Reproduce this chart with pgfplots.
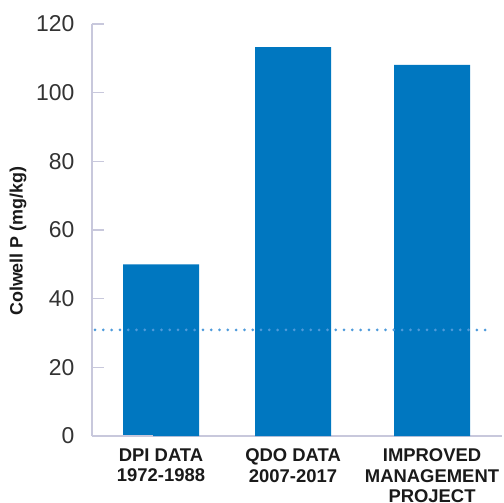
\documentclass[border=0pt]{standalone}
\usepackage{pgfplots}
\pgfplotsset{compat=1.18}
\usepackage{fontspec}
\setmainfont{Liberation Sans}
\definecolor{barblue}{HTML}{0077C0}
\definecolor{dotblue}{HTML}{4F9BDB}
\definecolor{axisgray}{HTML}{C8C8DC}
\definecolor{ticktext}{HTML}{333333}
\definecolor{labtext}{HTML}{1A1A1A}
\begin{document}
\begin{tikzpicture}
\begin{axis}[
  x=132bp, y=3.4333bp,
  xmin=-0.523, xmax=2.583, ymin=0, ymax=120,
  axis x line=bottom, axis y line=left,
  axis line style={axisgray, line width=1.5bp, -},
  clip=false,
  ytick={0,20,...,120},
  ytick style={axisgray, line width=1.5bp},
  tick align=inside, major tick length=12bp,
  xtick={0,1,2.053},
  xticklabels={{DPI DATA\\1972-1988},{QDO DATA\\2007-2017},{IMPROVED\\MANAGEMENT\\PROJECT}},
  xtick style={draw=none},
  xticklabel style={align=center, font=\fontsize{18.5}{20.7}\selectfont\bfseries, text=labtext, yshift=-9bp},
  yticklabel style={font=\fontsize{23}{23}\selectfont, text=ticktext, xshift=-14bp},
  /pgf/number format/assume math mode=true,
]
\coordinate (O) at (rel axis cs:0,0);
\addplot[ybar, fill=barblue, draw=none, bar width=76bp] coordinates {(0,50) (1,113.3) (2.053,108.1)};
\addplot[dotblue, line width=3bp, line cap=round, dash pattern=on 0bp off 8.3bp] coordinates {(-0.50,30.9) (2.49,30.9)};
\draw[axisgray, line width=1.5bp] (rel axis cs:0,0) -- ++(-8bp,0);
\node[rotate=90, font=\fontsize{18}{18}\selectfont\bfseries, text=labtext] at ([xshift=-74bp]rel axis cs:0,0.473) {Colwell P (mg/kg)};
\end{axis}
\pgfresetboundingbox
\path[use as bounding box] ([shift={(-92bp,-67bp)}]O) rectangle ([shift={(412bp,436bp)}]O);
\end{tikzpicture}
\end{document}
